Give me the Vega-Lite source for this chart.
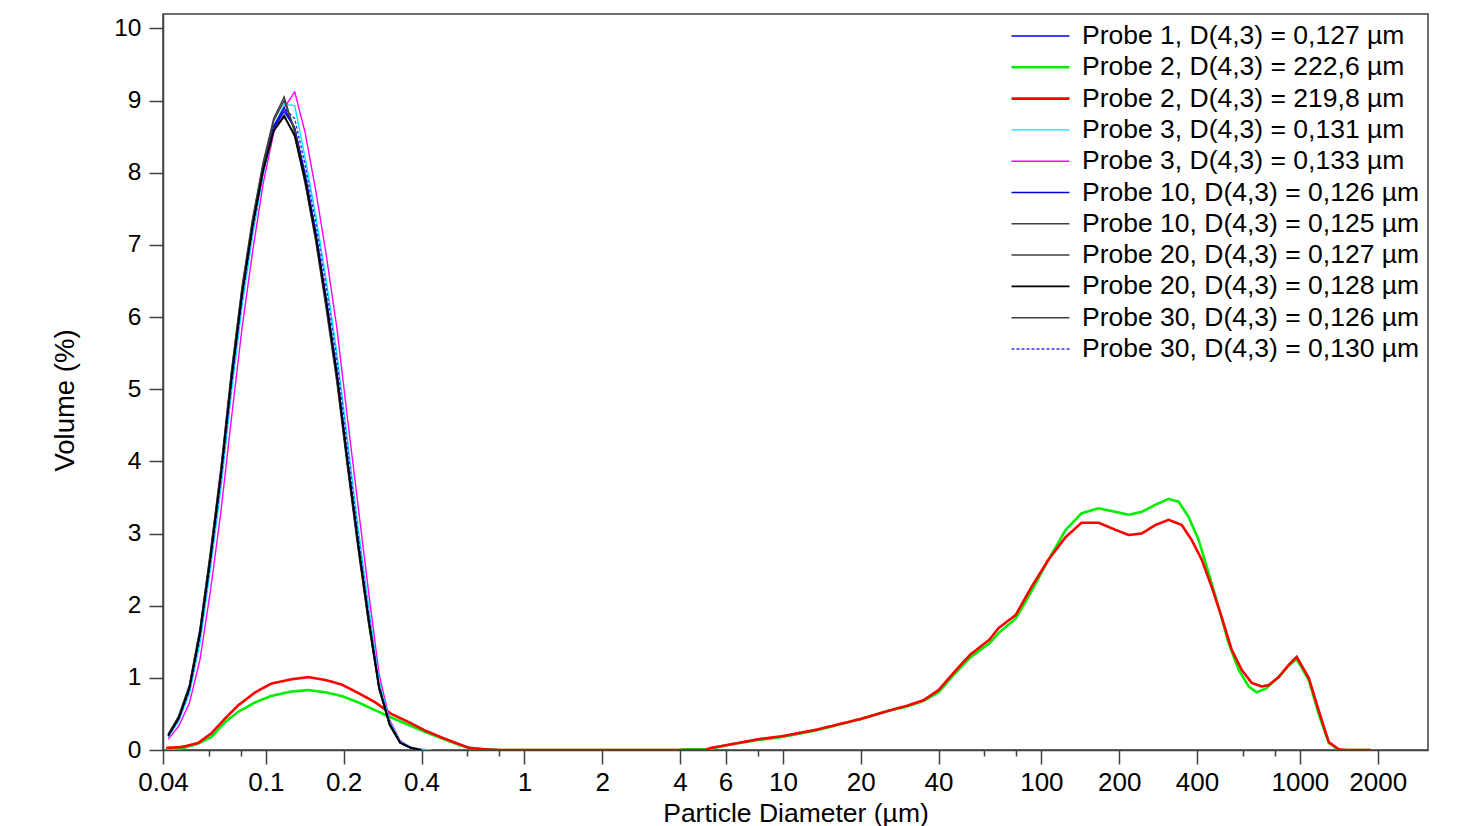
{
"$schema":"https://vega.github.io/schema/vega-lite/v6.json",
"width":1265,"height":736,
"autosize":{"type":"none"},
"padding":{"left":163,"top":14,"right":30,"bottom":76},
"background":"white",
"config":{"view":{"stroke":"#404040","strokeWidth":1.5},
"axis":{"labelFont":"Liberation Sans","titleFont":"Liberation Sans","labelColor":"#000","titleColor":"#000","titleFontWeight":"normal","domainColor":"#404040","tickColor":"#404040","domainWidth":1.5,"tickWidth":1.5,"grid":false,"labelFontSize":25,"titleFontSize":26},
"legend":{"labelFont":"Liberation Sans","labelFontSize":26.5,"labelColor":"#000"}},
"datasets":{
"pts":[
{"series":"Probe 2, D(4,3) = 222,6 µm","d":0.0412,"v":0.01},{"series":"Probe 2, D(4,3) = 222,6 µm","d":0.0471,"v":0.02},{"series":"Probe 2, D(4,3) = 222,6 µm","d":0.0548,"v":0.09},{"series":"Probe 2, D(4,3) = 222,6 µm","d":0.0615,"v":0.18},{"series":"Probe 2, D(4,3) = 222,6 µm","d":0.0697,"v":0.39},{"series":"Probe 2, D(4,3) = 222,6 µm","d":0.0782,"v":0.53},{"series":"Probe 2, D(4,3) = 222,6 µm","d":0.091,"v":0.66},{"series":"Probe 2, D(4,3) = 222,6 µm","d":0.1049,"v":0.75},{"series":"Probe 2, D(4,3) = 222,6 µm","d":0.1254,"v":0.81},{"series":"Probe 2, D(4,3) = 222,6 µm","d":0.1459,"v":0.83},{"series":"Probe 2, D(4,3) = 222,6 µm","d":0.1698,"v":0.8},{"series":"Probe 2, D(4,3) = 222,6 µm","d":0.1957,"v":0.75},{"series":"Probe 2, D(4,3) = 222,6 µm","d":0.2278,"v":0.66},{"series":"Probe 2, D(4,3) = 222,6 µm","d":0.2651,"v":0.55},{"series":"Probe 2, D(4,3) = 222,6 µm","d":0.3056,"v":0.45},{"series":"Probe 2, D(4,3) = 222,6 µm","d":0.3556,"v":0.35},{"series":"Probe 2, D(4,3) = 222,6 µm","d":0.4131,"v":0.25},{"series":"Probe 2, D(4,3) = 222,6 µm","d":0.481,"v":0.16},{"series":"Probe 2, D(4,3) = 222,6 µm","d":0.56,"v":0.07},{"series":"Probe 2, D(4,3) = 222,6 µm","d":0.61,"v":0.03},{"series":"Probe 2, D(4,3) = 222,6 µm","d":0.7,"v":0.01},{"series":"Probe 2, D(4,3) = 222,6 µm","d":0.8,"v":0},{"series":"Probe 2, D(4,3) = 222,6 µm","d":4.0,"v":0},{"series":"Probe 2, D(4,3) = 222,6 µm","d":4.2,"v":0.01},{"series":"Probe 2, D(4,3) = 222,6 µm","d":5.0,"v":0.01},{"series":"Probe 2, D(4,3) = 222,6 µm","d":5.29,"v":0.02},{"series":"Probe 2, D(4,3) = 222,6 µm","d":6.33,"v":0.08},{"series":"Probe 2, D(4,3) = 222,6 µm","d":8.05,"v":0.14},{"series":"Probe 2, D(4,3) = 222,6 µm","d":9.88,"v":0.18},{"series":"Probe 2, D(4,3) = 222,6 µm","d":13.4,"v":0.27},{"series":"Probe 2, D(4,3) = 222,6 µm","d":20,"v":0.43},{"series":"Probe 2, D(4,3) = 222,6 µm","d":26,"v":0.55},{"series":"Probe 2, D(4,3) = 222,6 µm","d":30,"v":0.6},{"series":"Probe 2, D(4,3) = 222,6 µm","d":35,"v":0.68},{"series":"Probe 2, D(4,3) = 222,6 µm","d":40,"v":0.8},{"series":"Probe 2, D(4,3) = 222,6 µm","d":46,"v":1.05},{"series":"Probe 2, D(4,3) = 222,6 µm","d":53,"v":1.28},{"series":"Probe 2, D(4,3) = 222,6 µm","d":63,"v":1.48},{"series":"Probe 2, D(4,3) = 222,6 µm","d":68.3,"v":1.62},{"series":"Probe 2, D(4,3) = 222,6 µm","d":79.5,"v":1.82},{"series":"Probe 2, D(4,3) = 222,6 µm","d":91.6,"v":2.2},{"series":"Probe 2, D(4,3) = 222,6 µm","d":106.6,"v":2.64},{"series":"Probe 2, D(4,3) = 222,6 µm","d":124.1,"v":3.05},{"series":"Probe 2, D(4,3) = 222,6 µm","d":143,"v":3.28},{"series":"Probe 2, D(4,3) = 222,6 µm","d":166.4,"v":3.35},{"series":"Probe 2, D(4,3) = 222,6 µm","d":193.7,"v":3.3},{"series":"Probe 2, D(4,3) = 222,6 µm","d":217.5,"v":3.26},{"series":"Probe 2, D(4,3) = 222,6 µm","d":244.3,"v":3.3},{"series":"Probe 2, D(4,3) = 222,6 µm","d":276.7,"v":3.4},{"series":"Probe 2, D(4,3) = 222,6 µm","d":310.7,"v":3.48},{"series":"Probe 2, D(4,3) = 222,6 µm","d":339.6,"v":3.44},{"series":"Probe 2, D(4,3) = 222,6 µm","d":371,"v":3.23},{"series":"Probe 2, D(4,3) = 222,6 µm","d":406,"v":2.91},{"series":"Probe 2, D(4,3) = 222,6 µm","d":443.6,"v":2.45},{"series":"Probe 2, D(4,3) = 222,6 µm","d":485,"v":1.98},{"series":"Probe 2, D(4,3) = 222,6 µm","d":530,"v":1.48},{"series":"Probe 2, D(4,3) = 222,6 µm","d":580,"v":1.11},{"series":"Probe 2, D(4,3) = 222,6 µm","d":634,"v":0.88},{"series":"Probe 2, D(4,3) = 222,6 µm","d":680,"v":0.8},{"series":"Probe 2, D(4,3) = 222,6 µm","d":737,"v":0.85},{"series":"Probe 2, D(4,3) = 222,6 µm","d":827.9,"v":1.01},{"series":"Probe 2, D(4,3) = 222,6 µm","d":905.1,"v":1.17},{"series":"Probe 2, D(4,3) = 222,6 µm","d":971.9,"v":1.26},{"series":"Probe 2, D(4,3) = 222,6 µm","d":1082,"v":0.97},{"series":"Probe 2, D(4,3) = 222,6 µm","d":1182,"v":0.5},{"series":"Probe 2, D(4,3) = 222,6 µm","d":1293,"v":0.1},{"series":"Probe 2, D(4,3) = 222,6 µm","d":1413,"v":0},{"series":"Probe 2, D(4,3) = 222,6 µm","d":1879,"v":0},
{"series":"Probe 2, D(4,3) = 219,8 µm","d":0.0412,"v":0.03},{"series":"Probe 2, D(4,3) = 219,8 µm","d":0.0471,"v":0.04},{"series":"Probe 2, D(4,3) = 219,8 µm","d":0.0548,"v":0.1},{"series":"Probe 2, D(4,3) = 219,8 µm","d":0.0615,"v":0.23},{"series":"Probe 2, D(4,3) = 219,8 µm","d":0.0697,"v":0.44},{"series":"Probe 2, D(4,3) = 219,8 µm","d":0.0782,"v":0.62},{"series":"Probe 2, D(4,3) = 219,8 µm","d":0.091,"v":0.8},{"series":"Probe 2, D(4,3) = 219,8 µm","d":0.1049,"v":0.92},{"series":"Probe 2, D(4,3) = 219,8 µm","d":0.1254,"v":0.98},{"series":"Probe 2, D(4,3) = 219,8 µm","d":0.1459,"v":1.01},{"series":"Probe 2, D(4,3) = 219,8 µm","d":0.1698,"v":0.97},{"series":"Probe 2, D(4,3) = 219,8 µm","d":0.1957,"v":0.91},{"series":"Probe 2, D(4,3) = 219,8 µm","d":0.2278,"v":0.79},{"series":"Probe 2, D(4,3) = 219,8 µm","d":0.2651,"v":0.66},{"series":"Probe 2, D(4,3) = 219,8 µm","d":0.3056,"v":0.5},{"series":"Probe 2, D(4,3) = 219,8 µm","d":0.3556,"v":0.39},{"series":"Probe 2, D(4,3) = 219,8 µm","d":0.4131,"v":0.27},{"series":"Probe 2, D(4,3) = 219,8 µm","d":0.481,"v":0.17},{"series":"Probe 2, D(4,3) = 219,8 µm","d":0.56,"v":0.08},{"series":"Probe 2, D(4,3) = 219,8 µm","d":0.61,"v":0.03},{"series":"Probe 2, D(4,3) = 219,8 µm","d":0.7,"v":0.01},{"series":"Probe 2, D(4,3) = 219,8 µm","d":0.8,"v":0},{"series":"Probe 2, D(4,3) = 219,8 µm","d":4.0,"v":0},{"series":"Probe 2, D(4,3) = 219,8 µm","d":5.0,"v":0},{"series":"Probe 2, D(4,3) = 219,8 µm","d":5.29,"v":0.03},{"series":"Probe 2, D(4,3) = 219,8 µm","d":6.33,"v":0.08},{"series":"Probe 2, D(4,3) = 219,8 µm","d":8.05,"v":0.15},{"series":"Probe 2, D(4,3) = 219,8 µm","d":9.88,"v":0.19},{"series":"Probe 2, D(4,3) = 219,8 µm","d":13.4,"v":0.28},{"series":"Probe 2, D(4,3) = 219,8 µm","d":20,"v":0.43},{"series":"Probe 2, D(4,3) = 219,8 µm","d":26,"v":0.55},{"series":"Probe 2, D(4,3) = 219,8 µm","d":30,"v":0.61},{"series":"Probe 2, D(4,3) = 219,8 µm","d":35,"v":0.69},{"series":"Probe 2, D(4,3) = 219,8 µm","d":40,"v":0.83},{"series":"Probe 2, D(4,3) = 219,8 µm","d":46,"v":1.08},{"series":"Probe 2, D(4,3) = 219,8 µm","d":53,"v":1.32},{"series":"Probe 2, D(4,3) = 219,8 µm","d":63,"v":1.53},{"series":"Probe 2, D(4,3) = 219,8 µm","d":68.3,"v":1.69},{"series":"Probe 2, D(4,3) = 219,8 µm","d":79.5,"v":1.87},{"series":"Probe 2, D(4,3) = 219,8 µm","d":91.6,"v":2.26},{"series":"Probe 2, D(4,3) = 219,8 µm","d":106.6,"v":2.64},{"series":"Probe 2, D(4,3) = 219,8 µm","d":124.1,"v":2.95},{"series":"Probe 2, D(4,3) = 219,8 µm","d":143,"v":3.15},{"series":"Probe 2, D(4,3) = 219,8 µm","d":166.4,"v":3.15},{"series":"Probe 2, D(4,3) = 219,8 µm","d":193.7,"v":3.05},{"series":"Probe 2, D(4,3) = 219,8 µm","d":217.5,"v":2.98},{"series":"Probe 2, D(4,3) = 219,8 µm","d":244.3,"v":3.0},{"series":"Probe 2, D(4,3) = 219,8 µm","d":276.7,"v":3.12},{"series":"Probe 2, D(4,3) = 219,8 µm","d":310.7,"v":3.19},{"series":"Probe 2, D(4,3) = 219,8 µm","d":348.9,"v":3.12},{"series":"Probe 2, D(4,3) = 219,8 µm","d":381.4,"v":2.91},{"series":"Probe 2, D(4,3) = 219,8 µm","d":416.9,"v":2.64},{"series":"Probe 2, D(4,3) = 219,8 µm","d":455.8,"v":2.26},{"series":"Probe 2, D(4,3) = 219,8 µm","d":498.2,"v":1.84},{"series":"Probe 2, D(4,3) = 219,8 µm","d":544.7,"v":1.39},{"series":"Probe 2, D(4,3) = 219,8 µm","d":595.5,"v":1.11},{"series":"Probe 2, D(4,3) = 219,8 µm","d":651,"v":0.93},{"series":"Probe 2, D(4,3) = 219,8 µm","d":711.7,"v":0.88},{"series":"Probe 2, D(4,3) = 219,8 µm","d":757.5,"v":0.9},{"series":"Probe 2, D(4,3) = 219,8 µm","d":827.9,"v":1.01},{"series":"Probe 2, D(4,3) = 219,8 µm","d":905.1,"v":1.18},{"series":"Probe 2, D(4,3) = 219,8 µm","d":971.9,"v":1.29},{"series":"Probe 2, D(4,3) = 219,8 µm","d":1082,"v":1.0},{"series":"Probe 2, D(4,3) = 219,8 µm","d":1182,"v":0.55},{"series":"Probe 2, D(4,3) = 219,8 µm","d":1293,"v":0.11},{"series":"Probe 2, D(4,3) = 219,8 µm","d":1413,"v":0.01},{"series":"Probe 2, D(4,3) = 219,8 µm","d":1500,"v":0},{"series":"Probe 2, D(4,3) = 219,8 µm","d":1879,"v":0},
{"series":"Probe 3, D(4,3) = 0,133 µm","d":0.0419,"v":0.15},{"series":"Probe 3, D(4,3) = 0,133 µm","d":0.046,"v":0.33},{"series":"Probe 3, D(4,3) = 0,133 µm","d":0.0506,"v":0.65},{"series":"Probe 3, D(4,3) = 0,133 µm","d":0.0556,"v":1.25},{"series":"Probe 3, D(4,3) = 0,133 µm","d":0.061,"v":2.2},{"series":"Probe 3, D(4,3) = 0,133 µm","d":0.067,"v":3.3},{"series":"Probe 3, D(4,3) = 0,133 µm","d":0.0736,"v":4.6},{"series":"Probe 3, D(4,3) = 0,133 µm","d":0.0809,"v":5.85},{"series":"Probe 3, D(4,3) = 0,133 µm","d":0.0888,"v":6.9},{"series":"Probe 3, D(4,3) = 0,133 µm","d":0.0976,"v":7.85},{"series":"Probe 3, D(4,3) = 0,133 µm","d":0.1072,"v":8.55},{"series":"Probe 3, D(4,3) = 0,133 µm","d":0.1177,"v":8.9},{"series":"Probe 3, D(4,3) = 0,133 µm","d":0.1293,"v":9.12},{"series":"Probe 3, D(4,3) = 0,133 µm","d":0.142,"v":8.55},{"series":"Probe 3, D(4,3) = 0,133 µm","d":0.156,"v":7.75},{"series":"Probe 3, D(4,3) = 0,133 µm","d":0.1714,"v":6.85},{"series":"Probe 3, D(4,3) = 0,133 µm","d":0.1882,"v":5.85},{"series":"Probe 3, D(4,3) = 0,133 µm","d":0.2068,"v":4.6},{"series":"Probe 3, D(4,3) = 0,133 µm","d":0.2271,"v":3.4},{"series":"Probe 3, D(4,3) = 0,133 µm","d":0.2495,"v":2.2},{"series":"Probe 3, D(4,3) = 0,133 µm","d":0.2741,"v":1.05},{"series":"Probe 3, D(4,3) = 0,133 µm","d":0.3011,"v":0.42},{"series":"Probe 3, D(4,3) = 0,133 µm","d":0.3307,"v":0.13},{"series":"Probe 3, D(4,3) = 0,133 µm","d":0.3633,"v":0.04},{"series":"Probe 3, D(4,3) = 0,133 µm","d":0.3991,"v":0.01},{"series":"Probe 3, D(4,3) = 0,133 µm","d":0.4384,"v":0},
{"series":"Probe 3, D(4,3) = 0,131 µm","d":0.0419,"v":0.18},{"series":"Probe 3, D(4,3) = 0,131 µm","d":0.046,"v":0.4},{"series":"Probe 3, D(4,3) = 0,131 µm","d":0.0506,"v":0.78},{"series":"Probe 3, D(4,3) = 0,131 µm","d":0.0556,"v":1.48},{"series":"Probe 3, D(4,3) = 0,131 µm","d":0.061,"v":2.5},{"series":"Probe 3, D(4,3) = 0,131 µm","d":0.067,"v":3.62},{"series":"Probe 3, D(4,3) = 0,131 µm","d":0.0736,"v":4.95},{"series":"Probe 3, D(4,3) = 0,131 µm","d":0.0809,"v":6.15},{"series":"Probe 3, D(4,3) = 0,131 µm","d":0.0888,"v":7.12},{"series":"Probe 3, D(4,3) = 0,131 µm","d":0.0976,"v":7.98},{"series":"Probe 3, D(4,3) = 0,131 µm","d":0.1072,"v":8.62},{"series":"Probe 3, D(4,3) = 0,131 µm","d":0.1177,"v":8.95},{"series":"Probe 3, D(4,3) = 0,131 µm","d":0.1293,"v":8.93},{"series":"Probe 3, D(4,3) = 0,131 µm","d":0.142,"v":8.2},{"series":"Probe 3, D(4,3) = 0,131 µm","d":0.156,"v":7.4},{"series":"Probe 3, D(4,3) = 0,131 µm","d":0.1714,"v":6.5},{"series":"Probe 3, D(4,3) = 0,131 µm","d":0.1882,"v":5.5},{"series":"Probe 3, D(4,3) = 0,131 µm","d":0.2068,"v":4.3},{"series":"Probe 3, D(4,3) = 0,131 µm","d":0.2271,"v":3.1},{"series":"Probe 3, D(4,3) = 0,131 µm","d":0.2495,"v":2.0},{"series":"Probe 3, D(4,3) = 0,131 µm","d":0.2741,"v":0.95},{"series":"Probe 3, D(4,3) = 0,131 µm","d":0.3011,"v":0.4},{"series":"Probe 3, D(4,3) = 0,131 µm","d":0.3307,"v":0.12},{"series":"Probe 3, D(4,3) = 0,131 µm","d":0.3633,"v":0.04},{"series":"Probe 3, D(4,3) = 0,131 µm","d":0.3991,"v":0.01},{"series":"Probe 3, D(4,3) = 0,131 µm","d":0.4384,"v":0},
{"series":"Probe 30, D(4,3) = 0,130 µm","d":0.0419,"v":0.19},{"series":"Probe 30, D(4,3) = 0,130 µm","d":0.046,"v":0.42},{"series":"Probe 30, D(4,3) = 0,130 µm","d":0.0506,"v":0.82},{"series":"Probe 30, D(4,3) = 0,130 µm","d":0.0556,"v":1.55},{"series":"Probe 30, D(4,3) = 0,130 µm","d":0.061,"v":2.58},{"series":"Probe 30, D(4,3) = 0,130 µm","d":0.067,"v":3.72},{"series":"Probe 30, D(4,3) = 0,130 µm","d":0.0736,"v":5.05},{"series":"Probe 30, D(4,3) = 0,130 µm","d":0.0809,"v":6.25},{"series":"Probe 30, D(4,3) = 0,130 µm","d":0.0888,"v":7.2},{"series":"Probe 30, D(4,3) = 0,130 µm","d":0.0976,"v":8.0},{"series":"Probe 30, D(4,3) = 0,130 µm","d":0.1072,"v":8.6},{"series":"Probe 30, D(4,3) = 0,130 µm","d":0.1177,"v":8.9},{"series":"Probe 30, D(4,3) = 0,130 µm","d":0.1293,"v":8.75},{"series":"Probe 30, D(4,3) = 0,130 µm","d":0.142,"v":8.1},{"series":"Probe 30, D(4,3) = 0,130 µm","d":0.156,"v":7.3},{"series":"Probe 30, D(4,3) = 0,130 µm","d":0.1714,"v":6.4},{"series":"Probe 30, D(4,3) = 0,130 µm","d":0.1882,"v":5.4},{"series":"Probe 30, D(4,3) = 0,130 µm","d":0.2068,"v":4.2},{"series":"Probe 30, D(4,3) = 0,130 µm","d":0.2271,"v":3.0},{"series":"Probe 30, D(4,3) = 0,130 µm","d":0.2495,"v":1.9},{"series":"Probe 30, D(4,3) = 0,130 µm","d":0.2741,"v":0.9},{"series":"Probe 30, D(4,3) = 0,130 µm","d":0.3011,"v":0.38},{"series":"Probe 30, D(4,3) = 0,130 µm","d":0.3307,"v":0.11},{"series":"Probe 30, D(4,3) = 0,130 µm","d":0.3633,"v":0.03},{"series":"Probe 30, D(4,3) = 0,130 µm","d":0.3991,"v":0},
{"series":"Probe 10, D(4,3) = 0,126 µm","d":0.0419,"v":0.2},{"series":"Probe 10, D(4,3) = 0,126 µm","d":0.046,"v":0.45},{"series":"Probe 10, D(4,3) = 0,126 µm","d":0.0506,"v":0.87},{"series":"Probe 10, D(4,3) = 0,126 µm","d":0.0556,"v":1.64},{"series":"Probe 10, D(4,3) = 0,126 µm","d":0.061,"v":2.68},{"series":"Probe 10, D(4,3) = 0,126 µm","d":0.067,"v":3.84},{"series":"Probe 10, D(4,3) = 0,126 µm","d":0.0736,"v":5.18},{"series":"Probe 10, D(4,3) = 0,126 µm","d":0.0809,"v":6.36},{"series":"Probe 10, D(4,3) = 0,126 µm","d":0.0888,"v":7.3},{"series":"Probe 10, D(4,3) = 0,126 µm","d":0.0976,"v":8.08},{"series":"Probe 10, D(4,3) = 0,126 µm","d":0.1072,"v":8.65},{"series":"Probe 10, D(4,3) = 0,126 µm","d":0.1177,"v":8.9},{"series":"Probe 10, D(4,3) = 0,126 µm","d":0.1293,"v":8.62},{"series":"Probe 10, D(4,3) = 0,126 µm","d":0.142,"v":7.92},{"series":"Probe 10, D(4,3) = 0,126 µm","d":0.156,"v":7.12},{"series":"Probe 10, D(4,3) = 0,126 µm","d":0.1714,"v":6.18},{"series":"Probe 10, D(4,3) = 0,126 µm","d":0.1882,"v":5.18},{"series":"Probe 10, D(4,3) = 0,126 µm","d":0.2068,"v":3.98},{"series":"Probe 10, D(4,3) = 0,126 µm","d":0.2271,"v":2.85},{"series":"Probe 10, D(4,3) = 0,126 µm","d":0.2495,"v":1.8},{"series":"Probe 10, D(4,3) = 0,126 µm","d":0.2741,"v":0.86},{"series":"Probe 10, D(4,3) = 0,126 µm","d":0.3011,"v":0.35},{"series":"Probe 10, D(4,3) = 0,126 µm","d":0.3307,"v":0.1},{"series":"Probe 10, D(4,3) = 0,126 µm","d":0.3633,"v":0.03},{"series":"Probe 10, D(4,3) = 0,126 µm","d":0.3991,"v":0},
{"series":"Probe 1, D(4,3) = 0,127 µm","d":0.0419,"v":0.2},{"series":"Probe 1, D(4,3) = 0,127 µm","d":0.046,"v":0.44},{"series":"Probe 1, D(4,3) = 0,127 µm","d":0.0506,"v":0.85},{"series":"Probe 1, D(4,3) = 0,127 µm","d":0.0556,"v":1.6},{"series":"Probe 1, D(4,3) = 0,127 µm","d":0.061,"v":2.64},{"series":"Probe 1, D(4,3) = 0,127 µm","d":0.067,"v":3.8},{"series":"Probe 1, D(4,3) = 0,127 µm","d":0.0736,"v":5.12},{"series":"Probe 1, D(4,3) = 0,127 µm","d":0.0809,"v":6.3},{"series":"Probe 1, D(4,3) = 0,127 µm","d":0.0888,"v":7.25},{"series":"Probe 1, D(4,3) = 0,127 µm","d":0.0976,"v":8.05},{"series":"Probe 1, D(4,3) = 0,127 µm","d":0.1072,"v":8.62},{"series":"Probe 1, D(4,3) = 0,127 µm","d":0.1177,"v":8.85},{"series":"Probe 1, D(4,3) = 0,127 µm","d":0.1293,"v":8.62},{"series":"Probe 1, D(4,3) = 0,127 µm","d":0.142,"v":7.98},{"series":"Probe 1, D(4,3) = 0,127 µm","d":0.156,"v":7.18},{"series":"Probe 1, D(4,3) = 0,127 µm","d":0.1714,"v":6.25},{"series":"Probe 1, D(4,3) = 0,127 µm","d":0.1882,"v":5.25},{"series":"Probe 1, D(4,3) = 0,127 µm","d":0.2068,"v":4.05},{"series":"Probe 1, D(4,3) = 0,127 µm","d":0.2271,"v":2.9},{"series":"Probe 1, D(4,3) = 0,127 µm","d":0.2495,"v":1.83},{"series":"Probe 1, D(4,3) = 0,127 µm","d":0.2741,"v":0.87},{"series":"Probe 1, D(4,3) = 0,127 µm","d":0.3011,"v":0.36},{"series":"Probe 1, D(4,3) = 0,127 µm","d":0.3307,"v":0.1},{"series":"Probe 1, D(4,3) = 0,127 µm","d":0.3633,"v":0.03},{"series":"Probe 1, D(4,3) = 0,127 µm","d":0.3991,"v":0},
{"series":"Probe 20, D(4,3) = 0,127 µm","d":0.0419,"v":0.21},{"series":"Probe 20, D(4,3) = 0,127 µm","d":0.046,"v":0.45},{"series":"Probe 20, D(4,3) = 0,127 µm","d":0.0506,"v":0.87},{"series":"Probe 20, D(4,3) = 0,127 µm","d":0.0556,"v":1.63},{"series":"Probe 20, D(4,3) = 0,127 µm","d":0.061,"v":2.68},{"series":"Probe 20, D(4,3) = 0,127 µm","d":0.067,"v":3.84},{"series":"Probe 20, D(4,3) = 0,127 µm","d":0.0736,"v":5.18},{"series":"Probe 20, D(4,3) = 0,127 µm","d":0.0809,"v":6.36},{"series":"Probe 20, D(4,3) = 0,127 µm","d":0.0888,"v":7.28},{"series":"Probe 20, D(4,3) = 0,127 µm","d":0.0976,"v":8.05},{"series":"Probe 20, D(4,3) = 0,127 µm","d":0.1072,"v":8.6},{"series":"Probe 20, D(4,3) = 0,127 µm","d":0.1177,"v":8.8},{"series":"Probe 20, D(4,3) = 0,127 µm","d":0.1293,"v":8.5},{"series":"Probe 20, D(4,3) = 0,127 µm","d":0.142,"v":7.85},{"series":"Probe 20, D(4,3) = 0,127 µm","d":0.156,"v":7.08},{"series":"Probe 20, D(4,3) = 0,127 µm","d":0.1714,"v":6.15},{"series":"Probe 20, D(4,3) = 0,127 µm","d":0.1882,"v":5.15},{"series":"Probe 20, D(4,3) = 0,127 µm","d":0.2068,"v":3.97},{"series":"Probe 20, D(4,3) = 0,127 µm","d":0.2271,"v":2.85},{"series":"Probe 20, D(4,3) = 0,127 µm","d":0.2495,"v":1.8},{"series":"Probe 20, D(4,3) = 0,127 µm","d":0.2741,"v":0.86},{"series":"Probe 20, D(4,3) = 0,127 µm","d":0.3011,"v":0.35},{"series":"Probe 20, D(4,3) = 0,127 µm","d":0.3307,"v":0.1},{"series":"Probe 20, D(4,3) = 0,127 µm","d":0.3633,"v":0.03},{"series":"Probe 20, D(4,3) = 0,127 µm","d":0.3991,"v":0},
{"series":"Probe 30, D(4,3) = 0,126 µm","d":0.0419,"v":0.21},{"series":"Probe 30, D(4,3) = 0,126 µm","d":0.046,"v":0.46},{"series":"Probe 30, D(4,3) = 0,126 µm","d":0.0506,"v":0.88},{"series":"Probe 30, D(4,3) = 0,126 µm","d":0.0556,"v":1.66},{"series":"Probe 30, D(4,3) = 0,126 µm","d":0.061,"v":2.72},{"series":"Probe 30, D(4,3) = 0,126 µm","d":0.067,"v":3.88},{"series":"Probe 30, D(4,3) = 0,126 µm","d":0.0736,"v":5.22},{"series":"Probe 30, D(4,3) = 0,126 µm","d":0.0809,"v":6.4},{"series":"Probe 30, D(4,3) = 0,126 µm","d":0.0888,"v":7.33},{"series":"Probe 30, D(4,3) = 0,126 µm","d":0.0976,"v":8.12},{"series":"Probe 30, D(4,3) = 0,126 µm","d":0.1072,"v":8.72},{"series":"Probe 30, D(4,3) = 0,126 µm","d":0.1177,"v":9.0},{"series":"Probe 30, D(4,3) = 0,126 µm","d":0.1293,"v":8.6},{"series":"Probe 30, D(4,3) = 0,126 µm","d":0.142,"v":7.9},{"series":"Probe 30, D(4,3) = 0,126 µm","d":0.156,"v":7.1},{"series":"Probe 30, D(4,3) = 0,126 µm","d":0.1714,"v":6.15},{"series":"Probe 30, D(4,3) = 0,126 µm","d":0.1882,"v":5.15},{"series":"Probe 30, D(4,3) = 0,126 µm","d":0.2068,"v":3.97},{"series":"Probe 30, D(4,3) = 0,126 µm","d":0.2271,"v":2.84},{"series":"Probe 30, D(4,3) = 0,126 µm","d":0.2495,"v":1.78},{"series":"Probe 30, D(4,3) = 0,126 µm","d":0.2741,"v":0.85},{"series":"Probe 30, D(4,3) = 0,126 µm","d":0.3011,"v":0.34},{"series":"Probe 30, D(4,3) = 0,126 µm","d":0.3307,"v":0.1},{"series":"Probe 30, D(4,3) = 0,126 µm","d":0.3633,"v":0.03},{"series":"Probe 30, D(4,3) = 0,126 µm","d":0.3991,"v":0},
{"series":"Probe 10, D(4,3) = 0,125 µm","d":0.0419,"v":0.22},{"series":"Probe 10, D(4,3) = 0,125 µm","d":0.046,"v":0.47},{"series":"Probe 10, D(4,3) = 0,125 µm","d":0.0506,"v":0.9},{"series":"Probe 10, D(4,3) = 0,125 µm","d":0.0556,"v":1.68},{"series":"Probe 10, D(4,3) = 0,125 µm","d":0.061,"v":2.74},{"series":"Probe 10, D(4,3) = 0,125 µm","d":0.067,"v":3.9},{"series":"Probe 10, D(4,3) = 0,125 µm","d":0.0736,"v":5.25},{"series":"Probe 10, D(4,3) = 0,125 µm","d":0.0809,"v":6.42},{"series":"Probe 10, D(4,3) = 0,125 µm","d":0.0888,"v":7.36},{"series":"Probe 10, D(4,3) = 0,125 µm","d":0.0976,"v":8.14},{"series":"Probe 10, D(4,3) = 0,125 µm","d":0.1072,"v":8.75},{"series":"Probe 10, D(4,3) = 0,125 µm","d":0.1177,"v":9.05},{"series":"Probe 10, D(4,3) = 0,125 µm","d":0.1293,"v":8.55},{"series":"Probe 10, D(4,3) = 0,125 µm","d":0.142,"v":7.85},{"series":"Probe 10, D(4,3) = 0,125 µm","d":0.156,"v":7.05},{"series":"Probe 10, D(4,3) = 0,125 µm","d":0.1714,"v":6.1},{"series":"Probe 10, D(4,3) = 0,125 µm","d":0.1882,"v":5.1},{"series":"Probe 10, D(4,3) = 0,125 µm","d":0.2068,"v":3.92},{"series":"Probe 10, D(4,3) = 0,125 µm","d":0.2271,"v":2.8},{"series":"Probe 10, D(4,3) = 0,125 µm","d":0.2495,"v":1.76},{"series":"Probe 10, D(4,3) = 0,125 µm","d":0.2741,"v":0.84},{"series":"Probe 10, D(4,3) = 0,125 µm","d":0.3011,"v":0.34},{"series":"Probe 10, D(4,3) = 0,125 µm","d":0.3307,"v":0.1},{"series":"Probe 10, D(4,3) = 0,125 µm","d":0.3633,"v":0.03},{"series":"Probe 10, D(4,3) = 0,125 µm","d":0.3991,"v":0},
{"series":"Probe 20, D(4,3) = 0,128 µm","d":0.0419,"v":0.2},{"series":"Probe 20, D(4,3) = 0,128 µm","d":0.046,"v":0.44},{"series":"Probe 20, D(4,3) = 0,128 µm","d":0.0506,"v":0.86},{"series":"Probe 20, D(4,3) = 0,128 µm","d":0.0556,"v":1.62},{"series":"Probe 20, D(4,3) = 0,128 µm","d":0.061,"v":2.66},{"series":"Probe 20, D(4,3) = 0,128 µm","d":0.067,"v":3.82},{"series":"Probe 20, D(4,3) = 0,128 µm","d":0.0736,"v":5.15},{"series":"Probe 20, D(4,3) = 0,128 µm","d":0.0809,"v":6.33},{"series":"Probe 20, D(4,3) = 0,128 µm","d":0.0888,"v":7.26},{"series":"Probe 20, D(4,3) = 0,128 µm","d":0.0976,"v":8.03},{"series":"Probe 20, D(4,3) = 0,128 µm","d":0.1072,"v":8.58},{"series":"Probe 20, D(4,3) = 0,128 µm","d":0.1177,"v":8.78},{"series":"Probe 20, D(4,3) = 0,128 µm","d":0.1293,"v":8.52},{"series":"Probe 20, D(4,3) = 0,128 µm","d":0.142,"v":7.9},{"series":"Probe 20, D(4,3) = 0,128 µm","d":0.156,"v":7.12},{"series":"Probe 20, D(4,3) = 0,128 µm","d":0.1714,"v":6.2},{"series":"Probe 20, D(4,3) = 0,128 µm","d":0.1882,"v":5.2},{"series":"Probe 20, D(4,3) = 0,128 µm","d":0.2068,"v":4.0},{"series":"Probe 20, D(4,3) = 0,128 µm","d":0.2271,"v":2.88},{"series":"Probe 20, D(4,3) = 0,128 µm","d":0.2495,"v":1.82},{"series":"Probe 20, D(4,3) = 0,128 µm","d":0.2741,"v":0.87},{"series":"Probe 20, D(4,3) = 0,128 µm","d":0.3011,"v":0.36},{"series":"Probe 20, D(4,3) = 0,128 µm","d":0.3307,"v":0.1},{"series":"Probe 20, D(4,3) = 0,128 µm","d":0.3633,"v":0.03},{"series":"Probe 20, D(4,3) = 0,128 µm","d":0.3991,"v":0}
]},
"data":{"name":"pts"},
"mark":{"type":"line","clip":true},
"encoding":{
"x":{"field":"d","type":"quantitative","scale":{"type":"log","domain":[0.04,3130],"nice":false,"zero":false},
"axis":{"title":"Particle Diameter (µm)","titleFontSize":26.5,"labelFontSize":26,"values":[0.04,0.06,0.08,0.1,0.2,0.4,0.6,0.8,1,2,4,6,8,10,20,40,60,80,100,200,400,600,800,1000,2000],
"labelExpr":"indexof([0.06,0.08,0.6,0.8,8,60,80,600,800], datum.value) >= 0 ? '' : format(datum.value, '~g')",
"tickSize":{"condition":{"test":"indexof([0.06,0.08,0.6,0.8,8,60,80,600,800], datum.value) >= 0","value":6},"value":14},
"labelOverlap":false,"labelFlush":false,"labelBound":false,"labelPadding":5,"titlePadding":5}},
"y":{"field":"v","type":"quantitative","scale":{"domain":[0,10.2],"nice":false},
"axis":{"title":"Volume (%)","titleFontSize":27.5,"labelFontSize":24.5,"values":[0,1,2,3,4,5,6,7,8,9,10],"tickSize":14,"labelPadding":8,"titlePadding":34,"titleY":386,"labelOverlap":false,"labelBound":false,"labelFlush":false}},
"color":{"field":"series","type":"nominal",
"scale":{"domain":["Probe 1, D(4,3) = 0,127 µm","Probe 2, D(4,3) = 222,6 µm","Probe 2, D(4,3) = 219,8 µm","Probe 3, D(4,3) = 0,131 µm","Probe 3, D(4,3) = 0,133 µm","Probe 10, D(4,3) = 0,126 µm","Probe 10, D(4,3) = 0,125 µm","Probe 20, D(4,3) = 0,127 µm","Probe 20, D(4,3) = 0,128 µm","Probe 30, D(4,3) = 0,126 µm","Probe 30, D(4,3) = 0,130 µm"],
"range":["#0000ff","#00ee00","#ff0000","#00e8ff","#ff00ff","#0000d8","#404040","#404040","#000000","#404040","#3030ff"]},
"legend":{"title":null,"orient":"none","legendX":847,"legendY":6.5,"symbolType":"stroke","symbolSize":3364,"labelOffset":11,"clipHeight":31,"rowPadding":0.3,"padding":0,"labelLimit":0}},
"strokeWidth":{"field":"series","type":"nominal",
"scale":{"type":"ordinal","domain":["Probe 1, D(4,3) = 0,127 µm","Probe 2, D(4,3) = 222,6 µm","Probe 2, D(4,3) = 219,8 µm","Probe 3, D(4,3) = 0,131 µm","Probe 3, D(4,3) = 0,133 µm","Probe 10, D(4,3) = 0,126 µm","Probe 10, D(4,3) = 0,125 µm","Probe 20, D(4,3) = 0,127 µm","Probe 20, D(4,3) = 0,128 µm","Probe 30, D(4,3) = 0,126 µm","Probe 30, D(4,3) = 0,130 µm"],
"range":[1.4,2.6,2.6,1.4,1.4,1.4,1.5,1.5,1.8,1.5,1.4]},
"legend":{"title":null,"orient":"none","legendX":847,"legendY":6.5,"symbolType":"stroke","symbolSize":3364,"labelOffset":11,"clipHeight":31,"rowPadding":0.3,"padding":0,"labelLimit":0}},
"strokeDash":{"field":"series","type":"nominal",
"scale":{"type":"ordinal","domain":["Probe 1, D(4,3) = 0,127 µm","Probe 2, D(4,3) = 222,6 µm","Probe 2, D(4,3) = 219,8 µm","Probe 3, D(4,3) = 0,131 µm","Probe 3, D(4,3) = 0,133 µm","Probe 10, D(4,3) = 0,126 µm","Probe 10, D(4,3) = 0,125 µm","Probe 20, D(4,3) = 0,127 µm","Probe 20, D(4,3) = 0,128 µm","Probe 30, D(4,3) = 0,126 µm","Probe 30, D(4,3) = 0,130 µm"],
"range":[[1,0],[1,0],[1,0],[1,0],[1,0],[1,0],[1,0],[1,0],[1,0],[1,0],[3,2]]},
"legend":{"title":null,"orient":"none","legendX":847,"legendY":6.5,"symbolType":"stroke","symbolSize":3364,"labelOffset":11,"clipHeight":31,"rowPadding":0.3,"padding":0,"labelLimit":0}}
}
}
